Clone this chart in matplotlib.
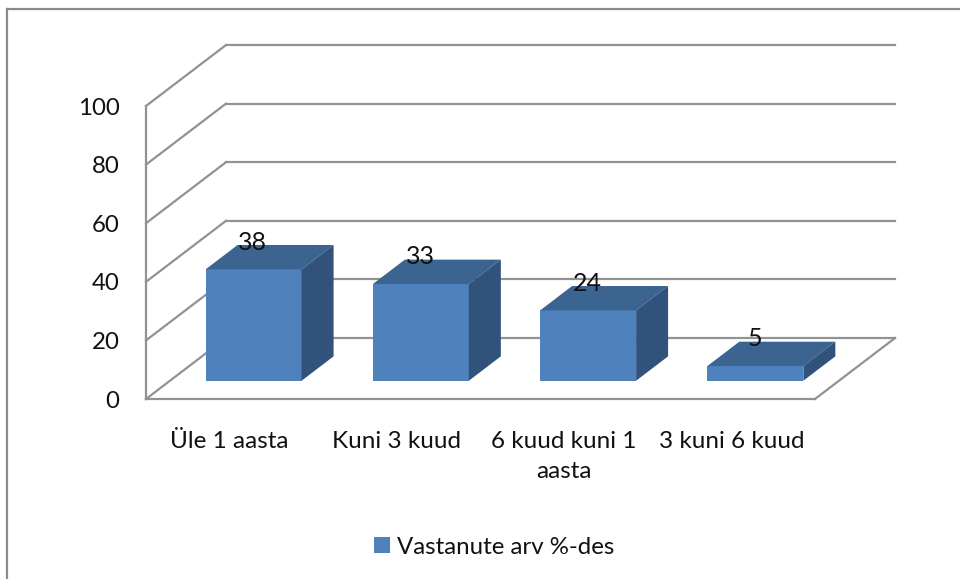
import matplotlib
matplotlib.use('Agg')
import matplotlib.pyplot as plt
from matplotlib.lines import Line2D
from matplotlib.patches import Patch

categories = ['Üle 1 aasta', 'Kuni 3 kuud', '6 kuud kuni 1\naasta', '3 kuni 6 kuud']
values = [38, 33, 24, 5]
y_ticks = [0, 20, 40, 60, 80, 100]
series_name = 'Vastanute arv %-des'

plt.rcParams['font.family'] = ['Lato', 'DejaVu Sans']

W, H = 960, 579
fig = plt.figure(figsize=(W / 100, H / 100), dpi=100, facecolor='white')
ax = fig.add_axes([146 / W, (H - 399) / H, 669 / W, 293 / H])
ax.set_xlim(0, len(categories))
ax.set_ylim(0, 100)
ax.patch.set_visible(False)

# fausse 3D : decalage de la profondeur en unites de donnees
depth_x = 0.478
depth_y = 20.8


def proj(x, y, d):
    return x + depth_x * d, y + depth_y * d


grid_col = '#929292'
lw = 1.6

# murs et sol
for v in y_ticks:
    x0, y0 = proj(0, v, 1)
    x1, y1 = proj(len(categories), v, 1)
    ax.plot([0, x0], [v, y0], color=grid_col, lw=lw, clip_on=False, zorder=1)
    ax.plot([x0, x1], [y0, y1], color=grid_col, lw=lw, clip_on=False, zorder=1)
x1, y1 = proj(len(categories), 0, 1)
ax.plot([len(categories), x1], [0, y1], color=grid_col, lw=lw, clip_on=False, zorder=1)

# axes avant
for side in ['top', 'right']:
    ax.spines[side].set_visible(False)
for side in ['left', 'bottom']:
    ax.spines[side].set_color(grid_col)
    ax.spines[side].set_linewidth(lw)

ax.set_yticks(y_ticks)
ax.set_yticklabels([str(v) for v in y_ticks], fontsize=17.3, color='#111111')
ax.tick_params(axis='y', length=0, pad=19)
ax.set_xticks([i + 0.5 for i in range(len(categories))])
ax.set_xticklabels(categories, fontsize=17.5, color='#111111', linespacing=1.55, va='top')
ax.tick_params(axis='x', length=0, pad=23)

# barres
bar_w = 0.574
d0, d1 = 0.3, 0.7
front_col = '#4f81bd'
top_col = '#3c6491'
side_col = '#30527b'

for i, v in enumerate(values):
    xl = i + 0.5 - bar_w / 2
    xr = i + 0.5 + bar_w / 2
    corners = {
        'fl0': proj(xl, 0, d0), 'fr0': proj(xr, 0, d0),
        'flv': proj(xl, v, d0), 'frv': proj(xr, v, d0),
        'blv': proj(xl, v, d1), 'brv': proj(xr, v, d1),
        'br0': proj(xr, 0, d1),
    }
    faces = [
        (['fl0', 'fr0', 'frv', 'flv'], front_col),
        (['flv', 'frv', 'brv', 'blv'], top_col),
        (['fr0', 'br0', 'brv', 'frv'], side_col),
    ]
    for names, col in faces:
        xs = [corners[n][0] for n in names]
        ys = [corners[n][1] for n in names]
        ax.fill(xs, ys, color=col, lw=0, clip_on=False, zorder=3)
    lx, ly = proj(i + 0.5, v, d0)
    ax.annotate(str(v), (lx, ly), xytext=(-0.5, 19.5), textcoords='offset points',
                ha='center', va='center', fontsize=18, color='#111111', zorder=5,
                annotation_clip=False)

# legende
fig.legend(handles=[Patch(facecolor=front_col, edgecolor='none', label=series_name)],
           loc='center', bbox_to_anchor=(494 / W, (H - 547) / H), frameon=False,
           fontsize=17.3, handlelength=0.67, handleheight=0.67, handletextpad=0.3,
           labelcolor='#111111')

# cadre du graphique
fig.add_artist(Line2D([7 / W, 7 / W], [0, (H - 9) / H], color='#8a8a8a', lw=1.6))
fig.add_artist(Line2D([7 / W, 1], [(H - 9) / H, (H - 9) / H], color='#8a8a8a', lw=1.6))

fig.savefig('out.png', dpi=100)
